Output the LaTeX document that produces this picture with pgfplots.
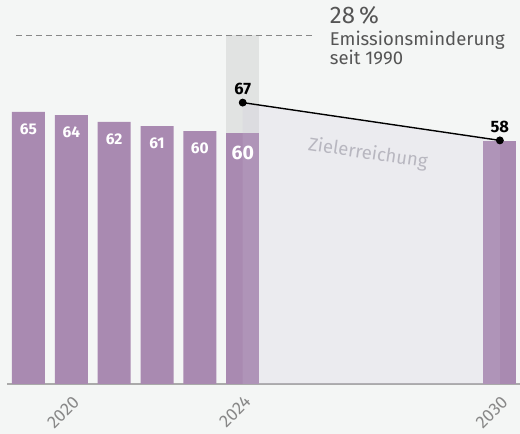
\documentclass[border=0pt]{standalone}
\usepackage{pgfplots}
\pgfplotsset{compat=1.18}
\usepackage{pgfplotstable}
\usepackage{fontspec}
\setmainfont{Fira Sans}
\definecolor{bgc}{HTML}{F4F6F5}
\definecolor{barc}{HTML}{A98AB1}
\definecolor{bandc}{HTML}{E1E3E2}
\definecolor{lavc}{HTML}{C8C0D8}
\definecolor{gridc}{HTML}{E3E5E4}
\definecolor{axc}{HTML}{AAAAAA}
\definecolor{txtc}{HTML}{555555}
\definecolor{tickc}{HTML}{888888}
\definecolor{zielc}{HTML}{B8B7C0}
\pgfplotstableread{
year val label
2019 64.8 65
2020 64.0 64
2021 62.4 62
2022 61.4 61
2023 60.2 60
}\bars
\pgfplotstableread{
year val label
2024 59.8 60
}\barcur
\pgfplotstableread{
year val label
2030 57.9 58
}\bargoal
\pgfplotstableread{
year val label
2024 67 67
2030 58 58
}\target
\begin{document}
\begin{tikzpicture}
\useasboundingbox (0,0) rectangle (520pt,434pt);
\fill[bgc] (0,0) rectangle (520pt,434pt);
\begin{axis}[
  at={(7pt,50pt)}, anchor=south west,
  scale only axis, width=513pt, height=336pt,
  xmin=2018.5, xmax=2030.47, ymin=0, ymax=80,
  clip=false,
  axis x line*=bottom,
  axis y line=none,
  x axis line style={axc, line width=1.5pt},
  xtick={2020,2024,2030},
  xticklabels={2020,2024,2030},
  xticklabel style={xshift=5pt, yshift=-15pt, inner sep=0pt, rotate=45, anchor=east, font=\fontsize{17.5}{19}\selectfont, text=tickc},
  ytick={20,40,60,80},
  yticklabels={},
  ymajorgrids,
  grid style={gridc, line width=1.5pt},
  major tick length=0pt,
]
% highlight band
\addplot[ybar, bar width=33pt, bar shift=0pt, fill=bandc, draw=none] coordinates {(2024,83.1)};
% dashed reference line
\addplot[tickc, line width=0.9pt, dash pattern=on 6pt off 4pt] coordinates {(2018.72,83.1) (2025.68,83.1)};
% bars
\addplot[ybar, bar width=33pt, bar shift=0pt, fill=barc, draw=none,
  point meta=explicit symbolic,
  nodes near coords,
  nodes near coords style={anchor=north, yshift=-8pt, text=white, font=\fontsize{15.5}{17}\selectfont\bfseries}]
  table[x=year, y=val, meta=label] {\bars};
\addplot[ybar, bar width=33pt, bar shift=0pt, fill=barc, draw=none,
  point meta=explicit symbolic,
  nodes near coords,
  nodes near coords style={anchor=north, yshift=-10pt, text=white, font=\fontsize{19.5}{21}\selectfont\bfseries}]
  table[x=year, y=val, meta=label] {\barcur};
\addplot[ybar, bar width=33pt, bar shift=0pt, fill=barc, draw=none]
  table[x=year, y=val] {\bargoal};
% target area
\addplot[draw=none, fill=lavc, fill opacity=0.2] table[x=year, y=val] {\target} \closedcycle;
% target line
\addplot[black, line width=1.4pt, mark=*, mark size=3.2pt,
  point meta=explicit symbolic,
  nodes near coords,
  nodes near coords style={anchor=south, yshift=4pt, text=black, font=\fontsize{16.5}{18}\selectfont\bfseries}]
  table[x=year, y=val, meta=label] {\target};
\node[rotate=-8.4, text=zielc, font=\fontsize{18.5}{20}\selectfont] at (axis cs:2026.92,54.8) {Zielerreichung};
\node[anchor=base west, inner sep=0pt, text=txtc, font=\fontsize{24}{26}\selectfont] at (axis cs:2026.03,85.9) {28\,\%};
\node[anchor=base west, inner sep=0pt, text=txtc, font=\fontsize{18.5}{20}\selectfont] at (axis cs:2026.03,80.7) {Emissionsminderung};
\node[anchor=base west, inner sep=0pt, text=txtc, font=\fontsize{18.5}{20}\selectfont] at (axis cs:2026.03,76.1) {seit 1990};
\end{axis}
\end{tikzpicture}
\end{document}
